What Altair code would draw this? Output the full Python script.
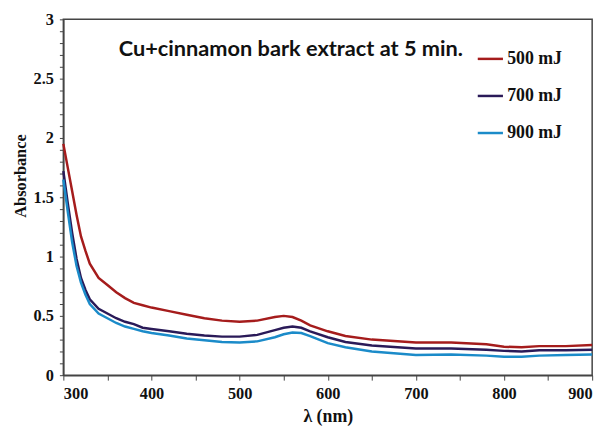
import altair as alt
import pandas as pd

wavelength = [300, 305, 310, 315, 320, 325, 330, 340, 350, 360, 370, 380, 390, 400,
              420, 440, 460, 480, 500, 520, 540, 550, 560, 570, 580, 600, 620, 650,
              700, 740, 780, 800, 820, 840, 870, 900]
abs_500 = [1.95, 1.75, 1.55, 1.35, 1.17, 1.05, 0.94, 0.82, 0.76, 0.70, 0.65, 0.61, 0.59, 0.57,
           0.54, 0.51, 0.48, 0.46, 0.45, 0.46, 0.49, 0.50, 0.49, 0.46, 0.42, 0.37, 0.33, 0.30,
           0.275, 0.275, 0.26, 0.24, 0.235, 0.245, 0.245, 0.255]
abs_700 = [1.72, 1.45, 1.20, 0.98, 0.82, 0.72, 0.64, 0.56, 0.52, 0.48, 0.45, 0.43, 0.40, 0.39,
           0.37, 0.35, 0.335, 0.325, 0.325, 0.34, 0.38, 0.40, 0.41, 0.40, 0.37, 0.32, 0.28, 0.25,
           0.225, 0.225, 0.215, 0.205, 0.20, 0.21, 0.21, 0.215]
abs_900 = [1.65, 1.38, 1.12, 0.92, 0.78, 0.68, 0.60, 0.52, 0.48, 0.44, 0.41, 0.39, 0.37, 0.355,
           0.335, 0.31, 0.295, 0.28, 0.275, 0.285, 0.32, 0.345, 0.36, 0.355, 0.33, 0.27, 0.235, 0.20,
           0.17, 0.175, 0.165, 0.155, 0.155, 0.165, 0.17, 0.175]
series_names = ["500 mJ", "700 mJ", "900 mJ"]
series_colors = ["#A51C1C", "#2A1A58", "#1B8BC9"]
annotation = ["Cu+cinnamon bark extract at 5 min."]
x_ticks = list(range(300, 901, 50))
y_ticks = [round(i * 0.1, 1) for i in range(0, 31)]

rows = []
for name, vals in zip(series_names, [abs_500, abs_700, abs_900]):
    for w, a in zip(wavelength, vals):
        rows.append({"wl": w, "A": a, "series": name})
df = pd.DataFrame(rows)

serif = "Liberation Serif"

lines = alt.Chart(df).mark_line(strokeWidth=2.5).encode(
    x=alt.X("wl:Q", scale=alt.Scale(domain=[300, 900], nice=False),
            axis=alt.Axis(title="λ (nm)", values=x_ticks,
                          labelExpr="datum.value % 100 == 0 ? datum.label : ''",
                          grid=False, tickSize=5, labelPadding=6,
                          labelFont=serif, labelFontWeight="bold", labelFontSize=16.5,
                          titleFont=serif, titleFontWeight="bold", titleFontSize=18,
                          titlePadding=5, labelColor="#111", titleColor="#111",
                          domainColor="#444", tickColor="#444", domainWidth=1.5)),
    y=alt.Y("A:Q", scale=alt.Scale(domain=[0, 3], nice=False),
            axis=alt.Axis(title="Absorbance", values=y_ticks,
                          labelExpr="round(datum.value*10) % 5 == 0 ? format(datum.value, '~g') : ''",
                          grid=False, tickSize=4, labelPadding=6,
                          labelFont=serif, labelFontWeight="bold", labelFontSize=16.5,
                          titleFont=serif, titleFontWeight="bold", titleFontSize=16.5,
                          titleY=158, titlePadding=5, labelColor="#111", titleColor="#111",
                          domainColor="#444", tickColor="#444", domainWidth=1.5)),
    color=alt.Color("series:N", scale=alt.Scale(domain=series_names, range=series_colors),
                    legend=alt.Legend(title=None, orient="none", legendX=418, legendY=26,
                                      symbolType="stroke", symbolSize=650, symbolStrokeWidth=2.5,
                                      labelFont=serif, labelFontWeight="bold", labelFontSize=18,
                                      labelColor="#111", rowPadding=14.5, labelOffset=3))
)

note = alt.Chart(pd.DataFrame({"t": annotation})).mark_text(
    font="Lato", fontWeight="bold", fontSize=22, align="left", baseline="middle", color="#111"
).encode(x=alt.value(56), y=alt.value(30), text="t:N")

chart = alt.layer(lines, note).properties(
    width=535, height=360,
    autosize=alt.AutoSizeParams(type="none"),
    padding={"left": 56, "top": 9, "right": 14, "bottom": 55},
).configure_view(stroke="#444", strokeWidth=1.5)

chart.save("out.html", embed_options={"renderer": "svg", "actions": False})
